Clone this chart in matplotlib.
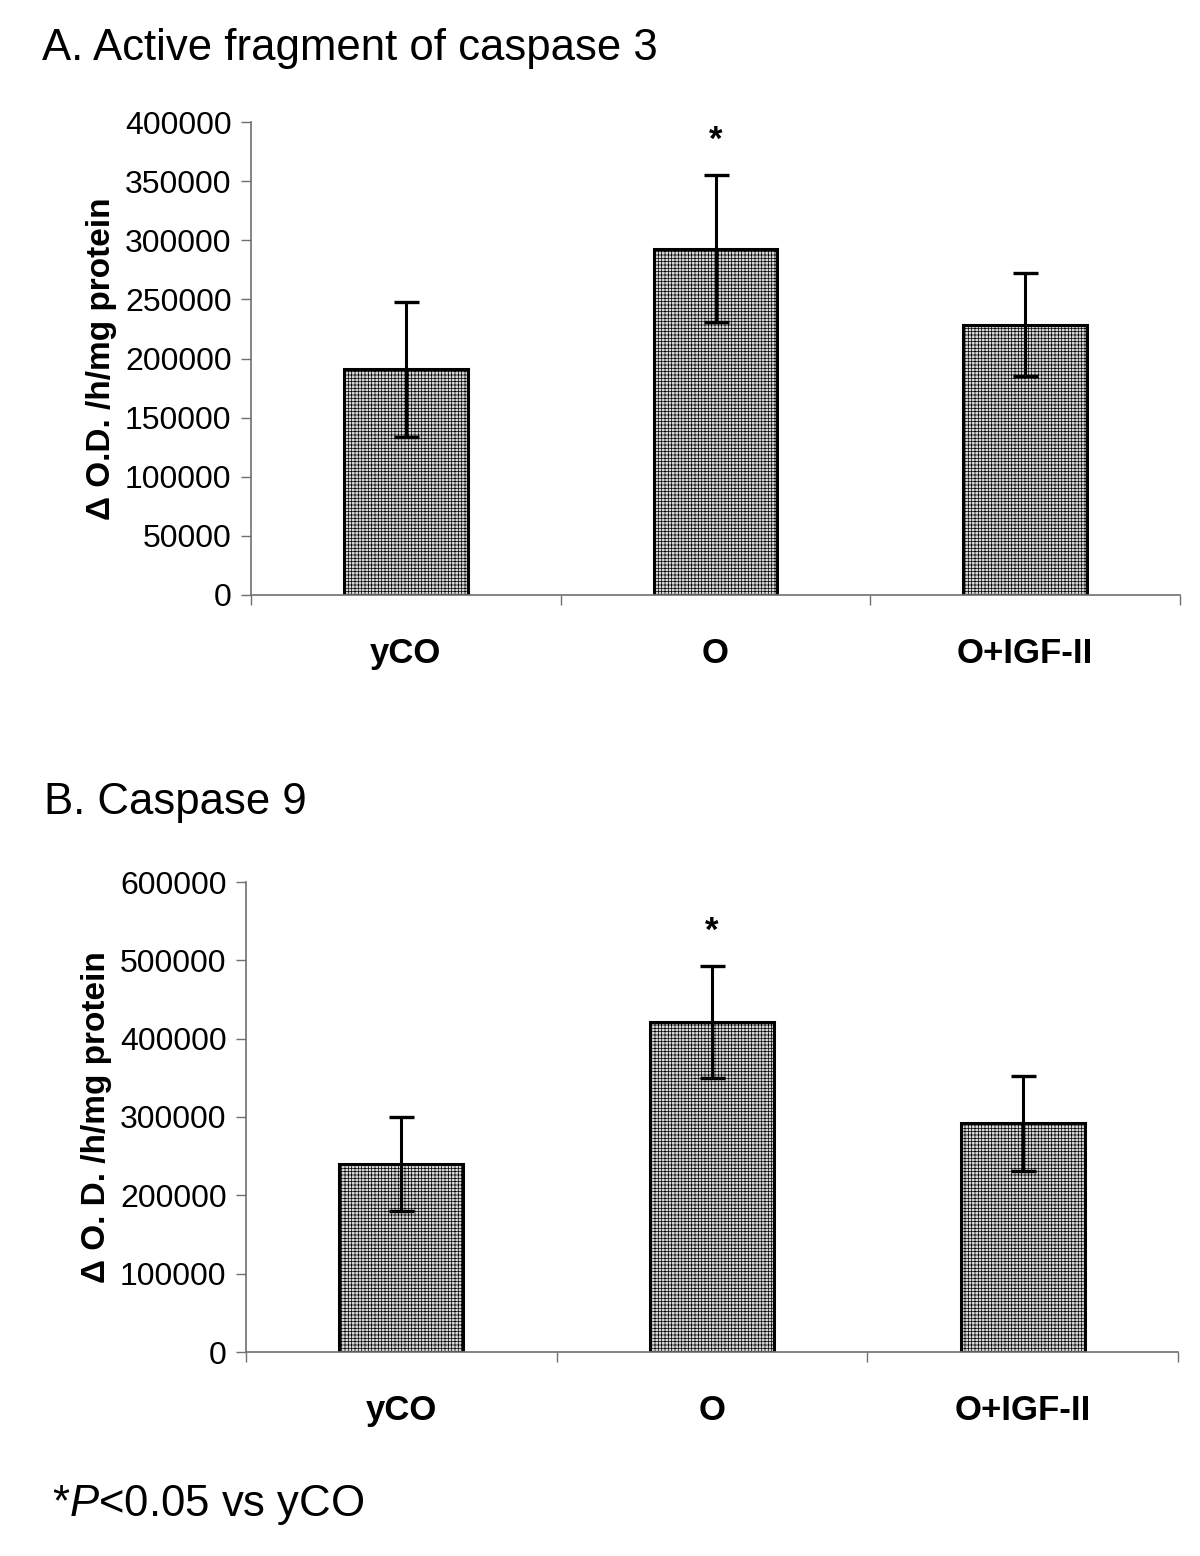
import matplotlib
matplotlib.use("Agg")
import matplotlib.pyplot as plt
import numpy as np

plt.rcParams['font.family'] = ['Liberation Sans', 'DejaVu Sans']
plt.rcParams['mathtext.fontset'] = 'custom'
plt.rcParams['mathtext.rm'] = 'Liberation Sans'
plt.rcParams['mathtext.it'] = 'Liberation Sans:italic'
plt.rcParams['hatch.linewidth'] = 0.5
plt.rcParams['hatch.color'] = '#a6a6a6'

categories = ["yCO", "O", "O+IGF-II"]

# Panel A: Active fragment of caspase 3
casp3_mean = [191000, 293000, 228500]
casp3_err = [57000, 62000, 43500]
casp3_sig = [False, True, False]
casp3_ticks = [0, 50000, 100000, 150000, 200000, 250000, 300000, 350000, 400000]

# Panel B: Caspase 9
casp9_mean = [240000, 421500, 292000]
casp9_err = [60000, 71500, 60500]
casp9_sig = [False, True, False]
casp9_ticks = [0, 100000, 200000, 300000, 400000, 500000, 600000]

W, H = 1200, 1556
fig = plt.figure(figsize=(W / 100, H / 100), dpi=100)


def px_axes(left, right, top, bottom):
    return fig.add_axes([left / W, 1 - bottom / H, (right - left) / W, (bottom - top) / H])


def draw(ax, means, errs, sig, ticks, ylabel):
    x = np.arange(len(categories))
    ax.bar(x, means, width=0.4, color='#d6d6d6', edgecolor='black', linewidth=2.2,
           hatch='+++++', zorder=2)
    ax.errorbar(x, means, yerr=errs, fmt='none', ecolor='black', elinewidth=2.2,
                capsize=9, capthick=2.4, zorder=3)
    for xi, m, e, s in zip(x, means, errs, sig):
        if s:
            ax.annotate('*', xy=(xi, m + e), xytext=(0, 25), textcoords='offset points',
                        ha='center', va='center', fontsize=25, fontweight='bold')
    ax.set_xlim(-0.5, len(categories) - 0.5)
    ax.set_ylim(ticks[0], ticks[-1])
    ax.set_yticks(ticks)
    ax.set_yticklabels([str(t) for t in ticks], fontsize=23)
    ax.set_xticks(np.arange(-0.5, len(categories), 1.0))
    ax.set_xticklabels([])
    ax.set_xticks(x, minor=True)
    ax.set_xticklabels(categories, minor=True, fontsize=25, fontweight='bold')
    ax.tick_params(axis='x', which='minor', length=0, pad=30)
    ax.tick_params(axis='x', which='major', length=7, width=1, color='#707070', direction='out')
    ax.tick_params(axis='y', length=7, width=1, color='#707070', direction='out', pad=7)
    for sp in ['top', 'right']:
        ax.spines[sp].set_visible(False)
    for sp in ['left', 'bottom']:
        ax.spines[sp].set_color('#707070')
        ax.spines[sp].set_linewidth(1.2)
    ax.set_ylabel(ylabel, fontsize=24, fontweight='bold', labelpad=6)


axA = px_axes(251, 1180, 122, 595)
draw(axA, casp3_mean, casp3_err, casp3_sig, casp3_ticks, "Δ O.D. /h/mg protein")
axB = px_axes(246, 1178, 882, 1352)
draw(axB, casp9_mean, casp9_err, casp9_sig, casp9_ticks, "Δ O. D. /h/mg protein")

fig.text(42 / W, 1 - 60 / H, "A. Active fragment of caspase 3", fontsize=31.5, va='baseline', ha='left')
fig.text(44 / W, 1 - 814 / H, "B. Caspase 9", fontsize=31.5, va='baseline', ha='left')
fig.text(52 / W, 1 - 1516 / H, r"*$\mathit{P}$<0.05 vs yCO", fontsize=31.5, va='baseline', ha='left')

fig.savefig("out.png", dpi=100)
